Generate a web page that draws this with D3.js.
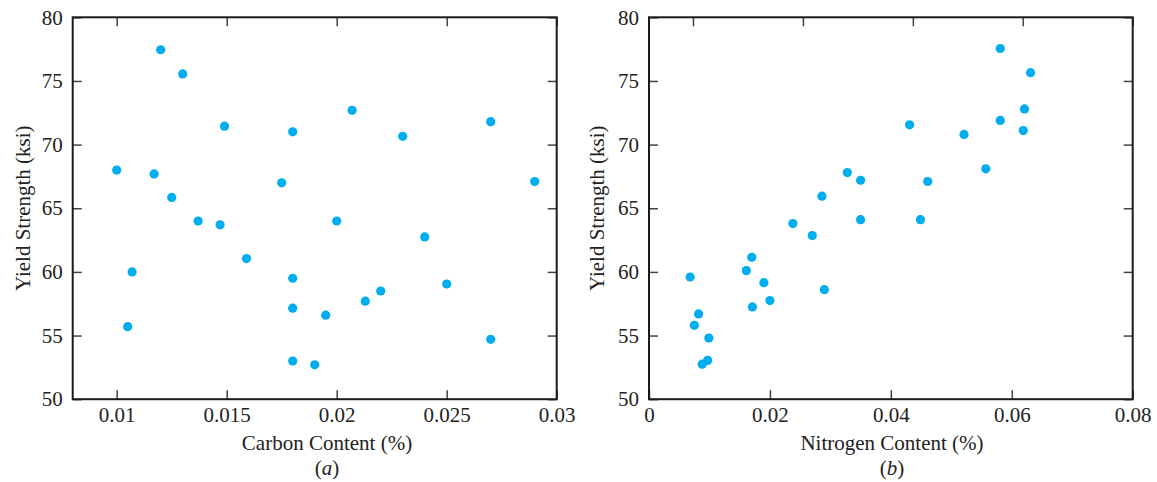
<!DOCTYPE html>
<html><head><meta charset="utf-8">
<script src="https://cdn.jsdelivr.net/npm/d3@7"></script>
<style>body{margin:0;background:#fff}</style>
</head><body><svg id="c" width="1157" height="482"></svg>
<script>
// ---- data ----
const carbon = [0.012,0.013,0.0207,0.0149,0.018,0.023,0.027,0.010,0.0117,0.0175,0.029,0.0125,0.0137,0.0147,0.020,0.024,0.0159,0.0107,0.018,0.025,0.022,0.0213,0.018,0.0195,0.0105,0.027,0.018,0.019];
const yieldA = [77.45,75.55,72.7,71.45,71.0,70.65,71.8,68.0,67.7,67.0,67.1,65.85,64.0,63.7,64.0,62.75,61.05,60.0,59.5,59.05,58.5,57.7,57.15,56.6,55.7,54.7,53.0,52.7];
const nitrogen = [0.0581,0.0631,0.0621,0.0581,0.0431,0.0619,0.0521,0.0557,0.0328,0.035,0.0461,0.0286,0.035,0.0449,0.0238,0.027,0.017,0.0161,0.0068,0.019,0.029,0.020,0.0171,0.0082,0.0075,0.0099,0.0097,0.0088];
const yieldB = [77.55,75.65,72.8,71.9,71.55,71.1,70.8,68.1,67.8,67.2,67.1,65.95,64.1,64.1,63.8,62.85,61.15,60.1,59.6,59.15,58.6,57.75,57.25,56.7,55.8,54.8,53.05,52.75];
const carbonDomain = [0.008, 0.03];
const nitrogenDomain = [0, 0.08];
const yDomain = [50, 80];
const carbonTicks = [0.01,0.015,0.02,0.025,0.03];
const carbonTickLabels = ["0.01","0.015","0.02","0.025","0.03"];
const nitrogenTicks = [0,0.02,0.04,0.06,0.08];
const nitrogenTickLabels = ["0","0.02","0.04","0.06","0.08"];
const yTicks = [50,55,60,65,70,75,80];
const yTickLabels = ["50","55","60","65","70","75","80"];
const xTitles = ["Carbon Content (%)","Nitrogen Content (%)"];
const yTitle = "Yield Strength (ksi)";
const panelTags = ["a","b"];

// ---- layout / style ----
const FONT = "'Liberation Serif','Times New Roman',serif";
const DOT = "#00AEEF";
const plotTop = 17.3, plotBottom = 399.2, plotH = plotBottom - plotTop;
const panels = [
  {left:72.7, right:556.7, dom:carbonDomain, ticks:carbonTicks, labels:carbonTickLabels, xs:carbon, ys:yieldA, titleX:327, yTitleX:23},
  {left:649, right:1132.7, dom:nitrogenDomain, ticks:nitrogenTicks, labels:nitrogenTickLabels, xs:nitrogen, ys:yieldB, titleX:892, yTitleX:597}
];

const svg = d3.select("#c");

panels.forEach((p, i) => {
  const w = p.right - p.left, h = plotH;
  const x = d3.scaleLinear().domain(p.dom).range([0, w]);
  const y = d3.scaleLinear().domain(yDomain).range([h, 0]);
  // top ticks in the original follow the carbon spacing in both panels
  const xTop = d3.scaleLinear().domain(carbonDomain).range([0, w]);
  const g = svg.append("g").attr("transform", `translate(${p.left},${plotTop})`);

  const styleAxis = sel => {
    sel.select(".domain").remove();
    sel.selectAll(".tick line").attr("stroke", "#444").attr("stroke-width", 1.5);
    sel.selectAll(".tick text").attr("font-family", FONT).attr("font-size", 21).attr("fill", "#222");
  };

  g.append("g").attr("transform", `translate(0,${h})`)
    .call(d3.axisBottom(x).tickValues(p.ticks).tickFormat((d, k) => p.labels[k]).tickSize(-9).tickPadding(8))
    .call(styleAxis);
  g.append("g")
    .call(d3.axisLeft(y).tickValues(yTicks).tickFormat((d, k) => yTickLabels[k]).tickSize(-9).tickPadding(10))
    .call(styleAxis);
  g.append("g").attr("transform", `translate(${w},0)`)
    .call(d3.axisRight(y).tickValues(yTicks).tickFormat("").tickSize(-9))
    .call(styleAxis);
  g.append("g")
    .call(d3.axisTop(xTop).tickValues(carbonTicks).tickFormat("").tickSize(-9))
    .call(styleAxis);

  g.append("rect").attr("x", 0).attr("y", 0).attr("width", w).attr("height", h)
    .attr("fill", "none").attr("stroke", "#1a1a1a").attr("stroke-width", 2);

  g.selectAll("circle.pt").data(p.xs.map((v, k) => [v, p.ys[k]])).join("circle")
    .attr("class", "pt")
    .attr("cx", d => x(d[0])).attr("cy", d => y(d[1])).attr("r", 4.6).attr("fill", DOT);

  svg.append("text").attr("x", p.titleX).attr("y", 450).attr("text-anchor", "middle")
    .attr("font-family", FONT).attr("font-size", 21).attr("fill", "#222").text(xTitles[i]);

  const tag = svg.append("text").attr("x", p.titleX).attr("y", 475).attr("text-anchor", "middle")
    .attr("font-family", FONT).attr("font-size", 21).attr("fill", "#222");
  tag.append("tspan").text("(");
  tag.append("tspan").attr("font-style", "italic").text(panelTags[i]);
  tag.append("tspan").text(")");

  svg.append("text").attr("transform", `translate(${p.yTitleX},${plotTop + h / 2}) rotate(-90)`)
    .attr("text-anchor", "middle").attr("dy", "0.35em")
    .attr("font-family", FONT).attr("font-size", 21).attr("fill", "#222").text(yTitle);
});
</script>
</body></html>
